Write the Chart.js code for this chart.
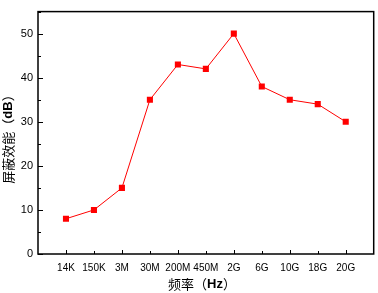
<!DOCTYPE html>
<html>
<head>
<meta charset="utf-8">
<script src="https://cdn.jsdelivr.net/npm/chart.js@4.4.0/dist/chart.umd.min.js"></script>
<style>
  html, body { margin: 0; padding: 0; background: #fff; }
  #wrap { width: 378px; height: 293px; }
</style>
</head>
<body>
<div id="wrap"><canvas id="chart" width="378" height="293"></canvas></div>
<script>
const categories = ["14K", "150K", "3M", "30M", "200M", "450M", "2G", "6G", "10G", "18G", "20G"];
const shielding = [8, 10, 15, 35, 43, 42, 50, 38, 35, 34, 30];
const yTicks = [0, 10, 20, 30, 40, 50];

// frame, inward ticks and the two axis titles
const framePlugin = {
  id: "frame",
  afterDraw(chart) {
    const ctx = chart.ctx;
    const a = chart.chartArea;
    const xs = chart.scales.x;
    const ys = chart.scales.y;
    ctx.save();
    ctx.strokeStyle = "#000";
    ctx.lineWidth = 1.5;
    ctx.strokeRect(a.left, a.top, a.right - a.left, a.bottom - a.top);

    ctx.lineWidth = 1;
    ctx.beginPath();
    categories.forEach((c, i) => {
      const x = Math.round(xs.getPixelForValue(i)) + 0.5;
      const len = i % 2 === 0 ? 4 : 3;
      ctx.moveTo(x, a.bottom);
      ctx.lineTo(x, a.bottom - len);
    });
    for (let v = 0; v <= 55; v += 5) {
      const y = Math.round(ys.getPixelForValue(v)) + 0.5;
      const len = v % 10 === 0 ? 5 : 3;
      ctx.moveTo(a.left, y);
      ctx.lineTo(a.left + len, y);
    }
    ctx.stroke();

    // titles with mixed weight
    const cjk = "13px 'Noto Sans CJK SC', sans-serif";
    const bold = "bold 13px 'Liberation Sans', Arial, sans-serif";
    const drawParts = (parts, cx, cy) => {
      let total = 0;
      parts.forEach(p => { ctx.font = p[1]; total += ctx.measureText(p[0]).width; });
      let x = cx - total / 2;
      ctx.textBaseline = "middle";
      ctx.textAlign = "left";
      parts.forEach(p => {
        ctx.font = p[1];
        ctx.fillText(p[0], x, cy);
        x += ctx.measureText(p[0]).width;
      });
    };
    ctx.fillStyle = "#000";
    drawParts([["频率（", cjk], ["Hz", bold], ["）", cjk]], 202, 284);

    ctx.save();
    ctx.translate(8, 136);
    ctx.rotate(-Math.PI / 2);
    drawParts([["屏蔽效能（", cjk], ["dB", bold], ["）", cjk]], 0, 0);
    ctx.restore();
    ctx.restore();
  }
};

new Chart(document.getElementById("chart"), {
  type: "line",
  data: {
    labels: categories,
    datasets: [{
      data: shielding.map((v, i) => ({ x: i, y: v })),
      borderColor: "#ff0000",
      backgroundColor: "#ff0000",
      borderWidth: 1,
      pointStyle: "rect",
      pointRadius: 4.3,
      pointBorderWidth: 0,
      tension: 0
    }]
  },
  options: {
    responsive: false,
    animation: false,
    layout: { padding: { top: 4, right: 3, left: 0, bottom: 0 } },
    plugins: { legend: { display: false }, tooltip: { enabled: false } },
    scales: {
      x: {
        type: "linear",
        min: -1,
        max: 11,
        afterBuildTicks: s => { s.ticks = categories.map((c, i) => ({ value: i })); },
        afterFit: s => { s.height = 39; },
        grid: { display: false, drawTicks: false },
        border: { display: false },
        ticks: {
          autoSkip: false,
          maxRotation: 0,
          padding: 8,
          color: "#000",
          font: { family: "'Liberation Sans', Arial, sans-serif", size: 10 },
          callback: v => categories[v] ?? ""
        }
      },
      y: {
        min: 0,
        max: 55,
        afterBuildTicks: s => { s.ticks = yTicks.map(v => ({ value: v })); },
        afterFit: s => { s.width = 38; },
        grid: { display: false, drawTicks: false },
        border: { display: false },
        ticks: {
          padding: 5,
          color: "#000",
          font: { family: "'Liberation Sans', Arial, sans-serif", size: 11 }
        }
      }
    }
  },
  plugins: [framePlugin]
});
</script>
</body>
</html>
